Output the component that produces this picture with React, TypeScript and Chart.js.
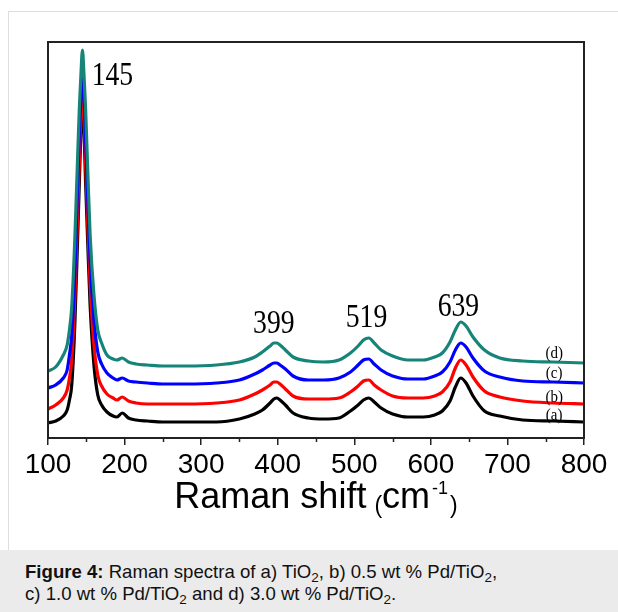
import React, { useEffect, useRef } from "react";
import { Chart, registerables } from "chart.js";

Chart.register(...registerables);

// Raman shift positions (cm^-1) at which the spectra were read
const ramanShift = [
  100, 110, 120, 125, 128, 131, 135, 138, 141, 143, 145, 147, 149, 152, 155, 160, 165, 170, 177, 185,
  190, 197, 205, 215, 230, 250, 280, 320, 350, 370, 380, 390, 395, 399, 403, 410, 420, 440, 460, 480,
  495, 505, 512, 519, 526, 535, 550, 570, 590, 605, 615, 625, 632, 639, 646, 655, 670, 690, 720, 760, 800,
];

// (a) TiO2 — black
const seriesA = [
  15, 17, 22, 28, 38, 53, 113, 183, 258, 308, 338, 308, 258, 193, 133, 73, 43, 33, 26, 22,
  21, 25, 20, 18, 17, 16, 16, 16, 19, 24, 28, 35, 39, 40, 38, 33, 25, 20, 19, 20,
  27, 33, 38, 40, 36, 30, 24, 21, 21, 23, 27, 37, 51, 60, 55, 42, 27, 22, 18, 17, 16,
];
// (b) 0.5 wt % Pd/TiO2 — red
const seriesB = [
  29, 33, 40, 48, 60, 78, 138, 208, 278, 323, 348, 323, 278, 213, 153, 93, 63, 52, 44, 40,
  38, 41, 37, 35, 34, 34, 34, 35, 38, 44, 48, 53, 56, 56, 54, 49, 42, 39, 39, 40,
  46, 52, 57, 58, 53, 48, 42, 40, 40, 42, 46, 56, 70, 78, 73, 61, 47, 41, 37, 35, 34,
];
// (c) 1.0 wt % Pd/TiO2 — blue
const seriesC = [
  50, 53, 60, 68, 83, 103, 163, 238, 308, 343, 366, 343, 303, 238, 178, 118, 86, 74, 65, 60,
  58, 60, 57, 56, 55, 54, 54, 55, 58, 64, 68, 73, 75, 75, 73, 69, 62, 58, 58, 60,
  66, 73, 78, 79, 74, 68, 62, 59, 59, 62, 66, 76, 88, 95, 91, 80, 67, 61, 57, 56, 55,
];
// (d) 3.0 wt % Pd/TiO2 — teal
const seriesD = [
  67, 71, 83, 93, 108, 131, 198, 265, 331, 363, 388, 363, 331, 265, 203, 143, 108, 95, 83, 79,
  78, 80, 76, 74, 73, 72, 72, 73, 76, 81, 86, 92, 95, 95, 93, 88, 81, 77, 76, 78,
  85, 92, 98, 100, 95, 88, 82, 78, 78, 81, 85, 96, 108, 116, 112, 101, 88, 80, 77, 76, 75,
];

const seriesNames = ["(a)", "(b)", "(c)", "(d)"];
const seriesColors = ["#000000", "#ff0000", "#0000ff", "#168478"];
const seriesOrder = [3, 2, 1, 0];
const seriesLabelX = [761, 761, 761, 761];
const seriesLabelY = [18, 36, 60, 80];

const peakLabels = ["145", "399", "519", "639"];
const peakLabelX = [157, 395, 516, 636];
const peakLabelY = [353, 105, 111, 122];
const peakLabelAlign = ["left", "center", "center", "center"];

const xMin = 100;
const xMax = 800;
const xMajorStep = 100;
const xMinorTicks = [150, 250, 350, 450, 550, 650, 750];

const SERIF = '"Liberation Serif", "Times New Roman", serif';
const SANS = '"Liberation Sans", Arial, sans-serif';

function drawCondensed(ctx: CanvasRenderingContext2D, text: string, px: number, py: number, size: number, align: CanvasTextAlign, sx: number) {
  ctx.save();
  ctx.translate(px, py);
  ctx.scale(sx, 1);
  ctx.font = `${size}px ${SERIF}`;
  ctx.textAlign = align;
  ctx.textBaseline = "alphabetic";
  ctx.fillStyle = "#000";
  ctx.fillText(text, 0, 0);
  ctx.restore();
}

const annotPlugin = {
  id: "annot",
  afterDatasetsDraw(chart: any) {
    const { ctx, chartArea: ca, scales } = chart;
    const x = scales.x;
    const y = scales.y;
    ctx.save();
    // plot frame
    ctx.strokeStyle = "#222";
    ctx.lineWidth = 2;
    ctx.strokeRect(ca.left, ca.top, ca.right - ca.left, ca.bottom - ca.top);
    // minor ticks
    ctx.lineWidth = 1.5;
    ctx.beginPath();
    for (const v of xMinorTicks) {
      const px = Math.round(x.getPixelForValue(v)) + 0.5;
      ctx.moveTo(px, ca.bottom);
      ctx.lineTo(px, ca.bottom + 4);
    }
    ctx.stroke();
    // peak labels
    peakLabels.forEach((t, i) => {
      drawCondensed(ctx, t, x.getPixelForValue(peakLabelX[i]), y.getPixelForValue(peakLabelY[i]), 33, peakLabelAlign[i] as CanvasTextAlign, 0.84);
    });
    // series labels
    seriesNames.forEach((t, i) => {
      drawCondensed(ctx, t, x.getPixelForValue(seriesLabelX[i]), y.getPixelForValue(seriesLabelY[i]), 17, "center", 0.88);
    });
    // axis title: Raman shift (cm^-1)
    const parts = [
      { t: "Raman shift", size: 36, dy: 0, gap: 8 },
      { t: "(", size: 23, dy: 5, gap: 0 },
      { t: "cm", size: 36, dy: 0, gap: 2 },
      { t: "-1", size: 18, dy: -14, gap: 2 },
      { t: ")", size: 23, dy: 5, gap: 0 },
    ];
    let total = 0;
    const widths: number[] = [];
    for (const p of parts) {
      ctx.font = `${p.size}px ${SANS}`;
      const w = ctx.measureText(p.t).width;
      widths.push(w);
      total += w + p.gap;
    }
    let cx = (ca.left + ca.right) / 2 - total / 2;
    const base = ca.bottom + 70;
    ctx.fillStyle = "#000";
    ctx.textAlign = "left";
    ctx.textBaseline = "alphabetic";
    parts.forEach((p, i) => {
      ctx.font = `${p.size}px ${SANS}`;
      ctx.fillText(p.t, cx, base + p.dy);
      cx += widths[i] + p.gap;
    });
    ctx.restore();
  },
};

export default function App() {
  const ref = useRef<HTMLCanvasElement | null>(null);

  useEffect(() => {
    if (!ref.current) return;
    const all = [seriesA, seriesB, seriesC, seriesD];
    const chart = new Chart(ref.current, {
      type: "line",
      data: {
        datasets: all.map((s, i) => ({
          label: seriesNames[i],
          data: ramanShift.map((xv, j) => ({ x: xv, y: s[j] })),
          borderColor: seriesColors[i],
          backgroundColor: seriesColors[i],
          borderWidth: 3.2,
          pointRadius: 0,
          order: seriesOrder[i],
          cubicInterpolationMode: "monotone" as const,
          fill: false,
        })),
      },
      options: {
        responsive: false,
        animation: false,
        layout: { padding: { left: 48, right: 34, top: 42, bottom: 32 } },
        plugins: { legend: { display: false }, tooltip: { enabled: false }, title: { display: false } },
        scales: {
          x: {
            type: "linear",
            min: xMin,
            max: xMax,
            afterFit: (s: any) => {
              s.height = 80;
            },
            ticks: {
              stepSize: xMajorStep,
              color: "#000",
              font: { family: SANS, size: 28 },
              padding: 3,
              maxRotation: 0,
              autoSkip: false,
            },
            grid: {
              display: true,
              drawOnChartArea: false,
              drawTicks: true,
              tickLength: 7,
              color: "#222",
              lineWidth: 1.5,
            },
            border: { display: false },
          },
          y: { display: false, min: 0, max: 396 },
        },
      },
      plugins: [annotPlugin],
    });
    return () => chart.destroy();
  }, []);

  const sub = { fontSize: 13.5, position: "relative" as const, top: 4 };

  return (
    <div style={{ position: "absolute", left: 0, top: 0, width: 618, height: 612, overflow: "hidden", background: "#fff" }}>
      <div style={{ position: "absolute", left: 8, top: 11, width: 700, height: 700, border: "1px solid #dedede", boxSizing: "border-box" }} />
      <div style={{ position: "absolute", left: 0, top: 0, width: 618, height: 550 }}>
        <canvas ref={ref} width={618} height={550} style={{ display: "block" }} />
      </div>
      <div
        style={{
          position: "absolute",
          left: 0,
          top: 550,
          width: 618,
          height: 62,
          background: "#ebebeb",
          fontFamily: SANS,
          fontSize: 18.6,
          lineHeight: "20px",
          color: "#111",
          paddingLeft: 25,
          paddingTop: 12,
          boxSizing: "border-box",
          whiteSpace: "nowrap",
        }}
      >
        <b>Figure 4:</b> Raman spectra of a) TiO<span style={sub}>2</span>, b) 0.5 wt % Pd/TiO<span style={sub}>2</span>,<br />
        c) 1.0 wt % Pd/TiO<span style={sub}>2</span> and d) 3.0 wt % Pd/TiO<span style={sub}>2</span>.
      </div>
    </div>
  );
}
